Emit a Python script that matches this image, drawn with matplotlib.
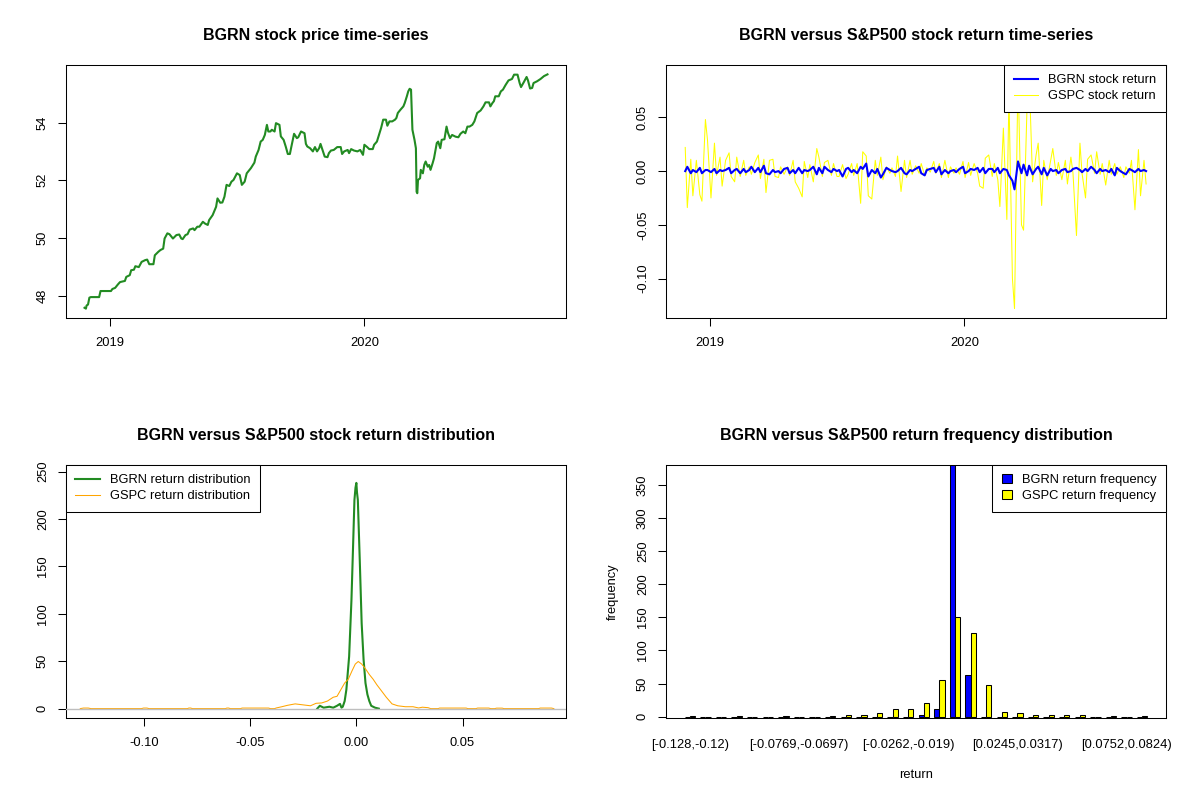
import matplotlib
matplotlib.use("Agg")
import matplotlib.pyplot as plt
import matplotlib.dates as mdates
from matplotlib.patches import Patch
from matplotlib.lines import Line2D
import numpy as np
import pandas as pd

plt.rcParams['font.family'] = ['Liberation Sans', 'DejaVu Sans']
plt.rcParams['axes.unicode_minus'] = False

# ---- BGRN closing price ----
price_dates = [
    '2018-11-25', '2018-11-27', '2018-11-28', '2018-11-30', '2018-12-02', '2018-12-04', '2018-12-16', '2018-12-18',
    '2019-01-02', '2019-01-04', '2019-01-08', '2019-01-12', '2019-01-15', '2019-01-22', '2019-01-24', '2019-01-29', '2019-01-31',
    '2019-02-04', '2019-02-06', '2019-02-11', '2019-02-15', '2019-02-20', '2019-02-23', '2019-02-26',
    '2019-03-04', '2019-03-06', '2019-03-11', '2019-03-14', '2019-03-18', '2019-03-20', '2019-03-24', '2019-03-27',
    '2019-04-01', '2019-04-06', '2019-04-10', '2019-04-13', '2019-04-15', '2019-04-19', '2019-04-22', '2019-04-25', '2019-04-30',
    '2019-05-02', '2019-05-06', '2019-05-09', '2019-05-14', '2019-05-17', '2019-05-21', '2019-05-23', '2019-05-28',
    '2019-06-02', '2019-06-04', '2019-06-08', '2019-06-11', '2019-06-14', '2019-06-17', '2019-06-21', '2019-06-24', '2019-06-27',
    '2019-07-02', '2019-07-06', '2019-07-09', '2019-07-13', '2019-07-16', '2019-07-20', '2019-07-22', '2019-07-27', '2019-07-29',
    '2019-08-02', '2019-08-05', '2019-08-08', '2019-08-11', '2019-08-14', '2019-08-16', '2019-08-19', '2019-08-21', '2019-08-25', '2019-08-27',
    '2019-09-01', '2019-09-03', '2019-09-07', '2019-09-10', '2019-09-13', '2019-09-16', '2019-09-18', '2019-09-22', '2019-09-26', '2019-09-28',
    '2019-10-02', '2019-10-07', '2019-10-09', '2019-10-11', '2019-10-15', '2019-10-19', '2019-10-22', '2019-10-25', '2019-10-28', '2019-10-30',
    '2019-11-01', '2019-11-05', '2019-11-09', '2019-11-11', '2019-11-14', '2019-11-18', '2019-11-23', '2019-11-28', '2019-11-30',
    '2019-12-03', '2019-12-08', '2019-12-10', '2019-12-13', '2019-12-17', '2019-12-22', '2019-12-26', '2019-12-30',
    '2020-01-01', '2020-01-05', '2020-01-08', '2020-01-13', '2020-01-15', '2020-01-19', '2020-01-22', '2020-01-25', '2020-01-28',
    '2020-02-01', '2020-02-03', '2020-02-06', '2020-02-10', '2020-02-14', '2020-02-16', '2020-02-18', '2020-02-22', '2020-02-26', '2020-02-28',
    '2020-03-02', '2020-03-04', '2020-03-06', '2020-03-08', '2020-03-10', '2020-03-13', '2020-03-15', '2020-03-16', '2020-03-17', '2020-03-18',
    '2020-03-21', '2020-03-22', '2020-03-25', '2020-03-27', '2020-03-29',
    '2020-04-01', '2020-04-03', '2020-04-05', '2020-04-08', '2020-04-10', '2020-04-14', '2020-04-16', '2020-04-19', '2020-04-21', '2020-04-25',
    '2020-04-28', '2020-04-30',
    '2020-05-03', '2020-05-06', '2020-05-11', '2020-05-15', '2020-05-18', '2020-05-22', '2020-05-25', '2020-05-28', '2020-05-31',
    '2020-06-04', '2020-06-07', '2020-06-11', '2020-06-16', '2020-06-20', '2020-06-23', '2020-06-28', '2020-06-30',
    '2020-07-03', '2020-07-05', '2020-07-07', '2020-07-12', '2020-07-15', '2020-07-18', '2020-07-22', '2020-07-26', '2020-07-31',
    '2020-08-03', '2020-08-08', '2020-08-11', '2020-08-13', '2020-08-17', '2020-08-21', '2020-08-23', '2020-08-26', '2020-08-29', '2020-08-31',
    '2020-09-05', '2020-09-10', '2020-09-15', '2020-09-20',
]
price = [
    47.58, 47.55, 47.66, 47.69, 47.93, 47.95, 47.95, 48.16,
    48.16, 48.23, 48.27, 48.39, 48.47, 48.51, 48.65, 48.71, 48.88,
    48.90, 49.02, 48.99, 49.17, 49.23, 49.25, 49.09,
    49.09, 49.40, 49.52, 49.58, 49.63, 49.98, 50.16, 50.13,
    49.98, 50.10, 50.12, 49.98, 49.96, 50.10, 50.13, 50.29, 50.33,
    50.27, 50.39, 50.39, 50.56, 50.50, 50.45, 50.62, 50.79,
    51.08, 51.37, 51.22, 51.23, 51.43, 51.84, 51.80, 51.95, 52.01,
    52.24, 52.18, 51.84, 51.95, 52.24, 52.36, 52.42, 52.61, 52.82,
    53.05, 53.34, 53.40, 53.57, 53.92, 53.69, 53.69, 53.75, 53.69, 53.98,
    53.92, 53.52, 53.40, 53.17, 52.91, 52.91, 53.15, 53.61, 53.46, 53.49,
    53.69, 53.63, 53.26, 53.17, 53.11, 53.00, 53.15, 53.00, 53.11, 53.26,
    53.11, 52.82, 52.80, 52.94, 53.03, 53.05, 53.15, 53.15, 52.91,
    53.00, 53.05, 52.94, 53.08, 53.03, 53.00, 53.05, 52.88,
    53.23, 53.15, 53.08, 53.08, 53.23, 53.34, 53.57, 53.81, 54.10,
    54.10, 53.89, 54.04, 54.04, 54.10, 54.16, 54.33, 54.45, 54.56, 54.68,
    54.91, 55.08, 55.17, 55.14, 53.75, 53.40, 53.11, 51.60, 51.55, 52.01,
    52.07, 52.36, 52.24, 52.53, 52.65,
    52.47, 52.53, 52.36, 52.59, 52.76, 53.29, 53.34, 53.11, 53.40, 53.42,
    53.86, 53.65,
    53.46, 53.57, 53.51, 53.49, 53.61, 53.69, 53.63, 53.86, 53.86,
    53.92, 54.04, 54.33, 54.42, 54.56, 54.70, 54.70, 54.56,
    54.68, 54.74, 54.91, 54.91, 55.08, 55.14, 55.31, 55.46, 55.51,
    55.66, 55.66, 55.37, 55.23, 55.40, 55.58, 55.46, 55.18, 55.20, 55.37,
    55.43, 55.51, 55.61, 55.67,
]

# ---- returns, one reading every 3 business days from 2018-11-26 ----
ret_start = '2018-11-26'
bgrn_ret = [
    0.000, 0.004, -0.002, 0.001, -0.001, 0.003, -0.002, 0.001, 0.001, -0.001,
    0.002, -0.002, 0.001, 0.000, 0.001, 0.003, -0.002, 0.001, 0.002, -0.002,
    0.002, -0.001, 0.001, 0.004, -0.001, 0.003, -0.001, 0.005, -0.002, -0.003,
    0.001, -0.001, 0.000, -0.002, 0.002, 0.003, -0.002, 0.001, -0.002, 0.003,
    -0.002, 0.001, 0.000, 0.001, 0.004, -0.003, 0.003, -0.002, 0.004, 0.001,
    -0.001, 0.002, 0.000, 0.001,
    -0.005, 0.002, 0.003, -0.001, 0.001, -0.002, 0.004, 0.002, 0.007, -0.005,
    0.001, -0.002, 0.002, -0.006, -0.003, 0.003, 0.001, 0.000, -0.001, 0.000,
    0.003, -0.002, -0.003, 0.001, 0.000, 0.002, 0.004, -0.002, -0.004, 0.001,
    0.002, 0.003, -0.001, 0.004, -0.003, 0.001, -0.002, 0.000, 0.001, -0.001,
    0.002, 0.004, -0.002, 0.000, 0.002, 0.001, 0.003, -0.001, 0.003, -0.002,
    0.002,
    0.002, -0.001, 0.003, -0.002, 0.002, 0.001, -0.004, -0.009, -0.017, 0.009,
    -0.002, 0.006, -0.004, 0.005, -0.003, 0.002, 0.004, -0.003, 0.003, -0.004,
    0.002, 0.000, 0.001, -0.002, 0.001, 0.002, -0.001, 0.000, 0.002, 0.003,
    0.001, -0.001, 0.002, 0.000, 0.004, 0.001, -0.002, 0.002, 0.000, 0.001,
    -0.001, 0.002, -0.004, 0.003, 0.000, -0.002, -0.003, 0.002, 0.001, -0.001,
    0.002, 0.000, 0.001, 0.000,
]
gspc_ret = [
    0.022, -0.034, 0.011, -0.023, 0.010, -0.022, -0.028, 0.048, 0.029, -0.025,
    0.026, -0.004, 0.013, -0.014, 0.010, 0.017, -0.005, -0.010, 0.013, -0.005,
    0.010, -0.004, 0.004, -0.003, 0.008, 0.015, -0.007, 0.011, -0.020, 0.010,
    0.011, -0.005, -0.006, 0.004, -0.003, 0.004, -0.004, 0.010, -0.010, -0.016,
    -0.024, 0.009, -0.006, 0.006, -0.010, 0.021, 0.013, -0.005, 0.008, 0.010,
    -0.004, 0.007, -0.005, -0.005,
    0.006, -0.007, -0.003, 0.007, -0.004, 0.007, -0.030, 0.018, 0.014, -0.023,
    -0.026, 0.010, -0.004, 0.013, -0.008, 0.004, -0.002, 0.003, -0.005, 0.014,
    -0.019, 0.010, -0.006, 0.010, -0.003, 0.005, -0.002, 0.007, -0.004, 0.003,
    -0.001, 0.009, -0.002, 0.007, -0.006, 0.010, -0.006, 0.004, -0.002, 0.003,
    -0.003, 0.009, -0.006, 0.008, -0.004, 0.007, -0.002, -0.014, -0.016, 0.012,
    0.015,
    -0.005, 0.007, -0.008, -0.033, 0.040, -0.045, 0.070, -0.100, -0.128, 0.089,
    -0.050, -0.055, 0.060, 0.090, -0.010, 0.015, 0.026, -0.032, 0.010, -0.008,
    0.010, 0.021, -0.004, 0.008, -0.008, 0.010, -0.012, 0.013, -0.002, -0.060,
    0.026, -0.002, -0.025, 0.011, 0.015, -0.002, 0.018, -0.003, 0.007, -0.013,
    0.010, -0.003, 0.007, -0.003, 0.004, -0.006, 0.004, -0.002, 0.010, -0.036,
    0.020, -0.023, 0.010, -0.012,
]

# ---- kernel density curves ----
bgrn_dens_x = [-0.0184, -0.0172, -0.0154, -0.0127, -0.0109, -0.0091, -0.0077, -0.0070, -0.0064,
               -0.0055, -0.0047, -0.0034, -0.0023, -0.0016, -0.0009, -0.0004, 0.0, 0.0003, 0.0007,
               0.0016, 0.0025, 0.0034, 0.0043, 0.0052, 0.0061, 0.0070, 0.0088, 0.0106]
bgrn_dens_y = [0, 3, 1, 2, 1, 3, 5, 1, 2,
               8, 20, 55, 115, 167, 220, 233, 238, 228, 220,
               157, 90, 52, 27, 15, 8, 3, 1, 0]
gspc_dens_x = [-0.1300, -0.1285, -0.1262, -0.1250, -0.1012, -0.1002, -0.0986, -0.0976,
               -0.0795, -0.0789, -0.0780, -0.0772, -0.0616, -0.0610, -0.0601, -0.0594,
               -0.0545, -0.0538, -0.0413, -0.0405, -0.0385, -0.0377, -0.0351, -0.0324,
               -0.0288, -0.0252, -0.0216, -0.0190, -0.0163, -0.0136, -0.0109, -0.0091,
               -0.0055, -0.0038, -0.0020, -0.0005, 0.0009, 0.0025, 0.0043, 0.0061,
               0.0079, 0.0097, 0.0114, 0.0141, 0.0168, 0.0195, 0.0231, 0.0267, 0.0293,
               0.0311, 0.0338, 0.0350, 0.0385, 0.0392, 0.0517, 0.0525, 0.0563, 0.0571,
               0.0624, 0.0632, 0.0652, 0.0660, 0.0687, 0.0695, 0.0858, 0.0866, 0.0919, 0.0930]
gspc_dens_y = [0, 0.6, 0.6, 0, 0, 0.6, 0.6, 0,
               0, 0.6, 0.6, 0, 0, 0.6, 0.6, 0,
               0, 0.6, 0.6, 0, 0, 0.7, 2, 3.5,
               5, 4, 3, 5.6, 6, 8, 12, 13,
               27, 31, 40, 47, 49.7, 47, 42, 36,
               31, 25, 20, 12, 5, 3, 2, 2, 0.7,
               1.5, 1, 0, 0, 0.6, 0.6, 0, 0, 0.6,
               0.6, 0, 0, 0.5, 0.5, 0, 0, 0.6, 0.6, 0]
dens_ylim = (0, 247)

# ---- return frequency (30 bins) ----
bgrn_freq = [0, 0, 0, 0, 0, 0, 0, 0, 0, 0, 0, 0, 0, 0, 0,
             3, 11, 388, 63, 0, 0, 0, 0, 0, 0, 0, 0, 0, 0, 0]
gspc_freq = [1, 0, 0, 1, 0, 0, 1, 0, 0, 1, 3, 3, 5, 12, 12,
             20, 55, 150, 126, 48, 7, 6, 3, 3, 3, 3, 0, 1, 0, 1]
bin_label_pos = [0, 7, 14, 21, 28]
bin_labels = ['[-0.128,-0.12)', '[-0.0769,-0.0697)', '[-0.0262,-0.019)',
              '[0.0245,0.0317)', '[0.0752,0.0824)']
freq_ylim = (-2, 380)

GREEN = '#228B22'
TICK_FS = 9.3
TITLE_FS = 11.5


def pad(lo, hi, f=0.04):
    d = (hi - lo) * f
    return lo - d, hi + d


def r_axes(ax, title):
    for s in ax.spines.values():
        s.set_linewidth(0.75)
        s.set_color('black')
    ax.tick_params(direction='out', length=6, width=0.75, labelsize=TICK_FS, colors='black')
    ax.tick_params(axis='x', pad=7.5)
    ax.tick_params(axis='y', labelrotation=90, pad=6.3)
    ax.set_title(title, fontsize=TITLE_FS, fontweight='bold', pad=18)


def r_legend(ax, handles, labels, loc, hl=1.9):
    leg = ax.legend(handles, labels, loc=loc, borderaxespad=0, fontsize=TICK_FS,
                    fancybox=False, edgecolor='black', framealpha=1, borderpad=0.73,
                    labelspacing=0.28, handlelength=hl, handletextpad=0.8)
    leg.get_frame().set_linewidth(0.75)
    return leg


fig = plt.figure(figsize=(12, 8), dpi=100)
W, H = 500 / 1200, 253 / 800
ax1 = fig.add_axes([66 / 1200, 1 - 318 / 800, W, H])
ax2 = fig.add_axes([666 / 1200, 1 - 318 / 800, W, H])
ax3 = fig.add_axes([66 / 1200, 1 - 718 / 800, W, H])
ax4 = fig.add_axes([666 / 1200, 1 - 718 / 800, W, H])

pdates = pd.to_datetime(price_dates)
rdates = pd.bdate_range(ret_start, periods=len(gspc_ret), freq='3B')
xnum = mdates.date2num(pdates)
xlim = pad(xnum.min(), xnum.max())
year_ticks = pd.to_datetime(['2019-01-01', '2020-01-01'])

# 1) price
ax1.plot(pdates, price, color=GREEN, lw=1.5)
ax1.set_xlim(xlim)
ax1.set_ylim(pad(min(price), max(price)))
ax1.set_yticks([48, 50, 52, 54])
ax1.set_xticks(year_ticks)
ax1.set_xticklabels(['2019', '2020'])
r_axes(ax1, 'BGRN stock price time-series')

# 2) returns
ax2.plot(rdates, gspc_ret, color='#FFFF00', lw=0.75, zorder=2)
ax2.plot(rdates, bgrn_ret, color='#0000FF', lw=1.5, zorder=3)
ax2.set_xlim(xlim)
allr = gspc_ret + bgrn_ret
ax2.set_ylim(pad(min(allr), max(allr)))
ax2.set_yticks([-0.10, -0.05, 0.00, 0.05])
ax2.set_yticklabels(['-0.10', '-0.05', '0.00', '0.05'])
ax2.set_xticks(year_ticks)
ax2.set_xticklabels(['2019', '2020'])
r_axes(ax2, 'BGRN versus S&P500 stock return time-series')
leg = r_legend(ax2, [Line2D([], [], color='#0000FF', lw=1.5), Line2D([], [], color='#FFFF00', lw=0.75)],
               ['BGRN stock return', 'GSPC stock return'], 'upper right')
leg.set_zorder(5)

# 3) density
ax3.plot(bgrn_dens_x, bgrn_dens_y, color=GREEN, lw=1.5, zorder=2)
ax3.plot(gspc_dens_x, gspc_dens_y, color='#FFA500', lw=0.75, zorder=3)
ax3.axhline(0, color='#BEBEBE', lw=1.0, zorder=4)
ax3.set_xlim(pad(min(gspc_ret), max(gspc_ret)))
ax3.set_ylim(pad(*dens_ylim))
ax3.set_xticks([-0.10, -0.05, 0.00, 0.05])
ax3.set_xticklabels(['-0.10', '-0.05', '0.00', '0.05'])
ax3.set_yticks([0, 50, 100, 150, 200, 250])
r_axes(ax3, 'BGRN versus S&P500 stock return distribution')
r_legend(ax3, [Line2D([], [], color=GREEN, lw=1.5), Line2D([], [], color='#FFA500', lw=0.75)],
         ['BGRN return distribution', 'GSPC return distribution'], 'upper left')

# 4) frequency bars
grp = np.arange(len(bgrn_freq))
ax4.bar(1.5 + 3 * grp, bgrn_freq, width=1, color='#0000FF', edgecolor='black', linewidth=0.75)
ax4.bar(2.5 + 3 * grp, gspc_freq, width=1, color='#FFFF00', edgecolor='black', linewidth=0.75)
ax4.set_xlim(pad(1, 3 * len(grp)))
ax4.set_ylim(freq_ylim)
ax4.set_yticks([0, 50, 100, 150, 200, 250, 300, 350])
ax4.set_xticks([2 + 3 * g for g in bin_label_pos])
ax4.set_xticklabels(bin_labels)
r_axes(ax4, 'BGRN versus S&P500 return frequency distribution')
ax4.tick_params(axis='x', length=0, pad=15)
ax4.set_ylabel('frequency', fontsize=TICK_FS)
ax4.yaxis.set_label_coords(-0.094, 0.5)
ax4.set_xlabel('return', fontsize=TICK_FS)
ax4.xaxis.set_label_coords(0.5, -0.2)
r_legend(ax4, [Patch(facecolor='#0000FF', edgecolor='black', lw=0.75),
               Patch(facecolor='#FFFF00', edgecolor='black', lw=0.75)],
         ['BGRN return frequency', 'GSPC return frequency'], 'upper right', hl=0.75)

for ax in (ax1, ax2, ax3, ax4):
    plt.setp(ax.get_yticklabels(), va='center')

fig.savefig('out.png', dpi=100, facecolor='white')
